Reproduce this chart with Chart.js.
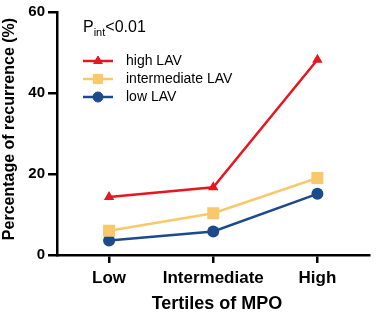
<!DOCTYPE html>
<html><head><meta charset="utf-8">
<script src="https://cdn.jsdelivr.net/npm/chart.js@4/dist/chart.umd.min.js"></script>
<style>html,body{margin:0;padding:0;background:#fff}#wrap{width:378px;height:315px}</style>
</head><body><div id="wrap"><canvas id="c" width="378" height="315"></canvas></div>
<script>
const categories = ["Low", "Intermediate", "High"];
const highLAV = [14.3, 16.7, 48.2];
const intermediateLAV = [6.0, 10.3, 19.0];
const lowLAV = [3.6, 5.8, 15.1];
const seriesNames = ["high LAV", "intermediate LAV", "low LAV"];
const yTicks = [0, 20, 40, 60];
const annotationText = ["P", "int", "<0.01"];
const xTitle = "Tertiles of MPO";
const yTitle = "Percentage of recurrence (%)";

const FONT = "'Liberation Sans', Arial, Helvetica, sans-serif";

const legendPlugin = {
  id: 'customLegend',
  afterDraw(chart) {
    const ctx = chart.ctx;
    ctx.save();
    ctx.fillStyle = '#000';
    ctx.textBaseline = 'alphabetic';
    let x = 83;
    ctx.font = "16px " + FONT;
    ctx.fillText(annotationText[0], x, 32);
    x += ctx.measureText(annotationText[0]).width;
    ctx.font = "11px " + FONT;
    ctx.fillText(annotationText[1], x, 36);
    x += ctx.measureText(annotationText[1]).width;
    ctx.font = "16px " + FONT;
    ctx.fillText(annotationText[2], x, 32);
    const ys = [61, 79, 97];
    const radii = [5, 6.5, 5];
    chart.data.datasets.forEach((ds, i) => {
      const y = ys[i];
      ctx.strokeStyle = ds.borderColor;
      ctx.lineWidth = 2.5;
      ctx.beginPath(); ctx.moveTo(83, y); ctx.lineTo(113, y); ctx.stroke();
      ctx.fillStyle = ds.borderColor;
      ctx.lineWidth = 1;
      Chart.helpers.drawPoint(ctx, {pointStyle: ds.pointStyle, radius: radii[i], rotation: 0, borderWidth: 1}, 98, y);
      ctx.fillStyle = '#000';
      ctx.font = "14px " + FONT;
      ctx.textBaseline = 'middle';
      ctx.fillText(seriesNames[i], 126, y);
    });
    // axis titles
    ctx.fillStyle = '#000';
    ctx.textAlign = 'center';
    ctx.textBaseline = 'middle';
    ctx.font = "bold 18px " + FONT;
    ctx.fillText(xTitle, 217, 304);
    ctx.translate(10, 129);
    ctx.rotate(-Math.PI / 2);
    ctx.font = "bold 16px " + FONT;
    ctx.fillText(yTitle, 0, 0);
    ctx.restore();
  }
};

const colors = ['#E8161E', '#F8C96A', '#1D4A8A'];
const styles = ['triangle', 'rect', 'circle'];
const radii = [6, 8.5, 6];
const dataArr = [highLAV, intermediateLAV, lowLAV];

new Chart(document.getElementById('c'), {
  type: 'line',
  data: {
    labels: categories,
    datasets: dataArr.map((d, i) => ({
      label: seriesNames[i],
      data: d,
      borderColor: colors[i],
      backgroundColor: colors[i],
      pointBackgroundColor: colors[i],
      pointBorderColor: colors[i],
      pointBorderWidth: 0,
      pointStyle: styles[i],
      pointRadius: radii[i],
      borderWidth: 2.5,
      tension: 0
    }))
  },
  options: {
    responsive: false,
    animation: false,
    devicePixelRatio: 1,
    layout: {padding: {top: 11, right: 5, left: 0, bottom: 0}},
    plugins: {legend: {display: false}, tooltip: {enabled: false}},
    scales: {
      x: {
        offset: true,
        grid: {drawOnChartArea: false, drawTicks: true, tickLength: 8, color: '#000', lineWidth: 2.5, offset: false},
        border: {color: '#000', width: 2.5},
        ticks: {color: '#000', font: {family: FONT, size: 17, weight: 'bold'}, padding: 5, maxRotation: 0, minRotation: 0, autoSkip: false},
        afterFit(s) { s.height = 60; }
      },
      y: {
        min: 0, max: 60,
        afterBuildTicks(s) { s.ticks = yTicks.map(v => ({value: v})); },
        grid: {drawOnChartArea: false, drawTicks: true, tickLength: 9, color: '#000', lineWidth: 2.5},
        border: {color: '#000', width: 2.5},
        ticks: {color: '#000', font: {family: FONT, size: 15, weight: 'bold'}, padding: 3},
        afterFit(s) { s.width = 57; }
      }
    }
  },
  plugins: [legendPlugin]
});
</script>
</body></html>
